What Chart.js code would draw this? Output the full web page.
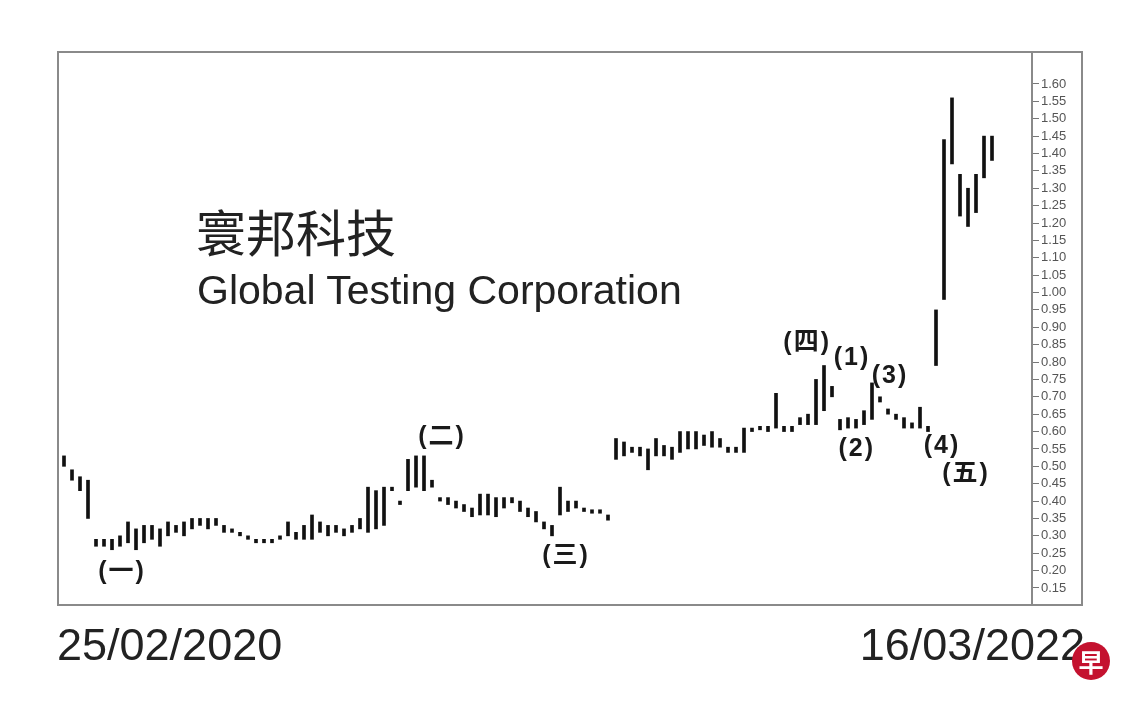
<!DOCTYPE html>
<html>
<head>
<meta charset="utf-8">
<script src="https://cdn.jsdelivr.net/npm/chart.js@4.4.0/dist/chart.umd.min.js"></script>
<style>
  body { margin: 0; background: #fff; }
  #wrap { position: relative; width: 1140px; height: 712px; overflow: hidden; }
  .txt { position: absolute; color: #222; white-space: nowrap; }
  #nameCn { left: 196px; top: 194px; font: 50px "Noto Sans CJK SC", sans-serif; }
  #nameEn { left: 197px; top: 267px; font: 41px "Liberation Sans", Arial, sans-serif; }
  #dStart { left: 57px; top: 619px; font: 45px "Liberation Sans", Arial, sans-serif; }
  #dEnd { right: 55px; top: 619px; font: 45px "Liberation Sans", Arial, sans-serif; }
  #logo { position: absolute; left: 1072px; top: 642px; width: 38px; height: 38px; border-radius: 50%;
    background: #c4122f; color: #fff; font: bold 25px "Noto Sans CJK SC", sans-serif;
    text-align: center; line-height: 38px; }
</style>
</head>
<body>
<div id="wrap">
  <canvas id="chart" width="1140" height="712"></canvas>
  <div class="txt" id="nameCn">寰邦科技</div>
  <div class="txt" id="nameEn">Global Testing Corporation</div>
  <div class="txt" id="dStart">25/02/2020</div>
  <div class="txt" id="dEnd">16/03/2022</div>
  <div id="logo">早</div>
</div>
<script>
// bar low / high, one pair per bar, from 25/02/2020 to 16/03/2022
let lows = [
  0.50, 0.46, 0.43, 0.35, 0.27, 0.27, 0.26, 0.27, 0.28, 0.26,
  0.28, 0.29, 0.27, 0.30, 0.31, 0.30, 0.32, 0.33, 0.32, 0.33,
  0.31, 0.31, 0.30, 0.29, 0.28, 0.28, 0.28, 0.29, 0.30, 0.29,
  0.29, 0.29, 0.31, 0.30, 0.31, 0.30, 0.31, 0.32, 0.31, 0.32,
  0.33, 0.43, 0.39, 0.43, 0.44, 0.43, 0.44, 0.40, 0.39, 0.38,
  0.37, 0.355, 0.36, 0.36, 0.355, 0.38, 0.395, 0.37, 0.355, 0.34,
  0.32, 0.30, 0.36, 0.37, 0.38, 0.37, 0.365, 0.365, 0.345, 0.52,
  0.53, 0.54, 0.53, 0.49, 0.53, 0.53, 0.52, 0.54, 0.55, 0.55,
  0.56, 0.555, 0.555, 0.54, 0.54, 0.54, 0.60, 0.605, 0.60, 0.61,
  0.60, 0.60, 0.62, 0.62, 0.62, 0.66, 0.70, 0.605, 0.61, 0.61,
  0.62, 0.635, 0.685, 0.65, 0.635, 0.61, 0.61, 0.61, 0.60, 0.79,
  0.98, 1.37, 1.22, 1.19, 1.23, 1.33, 1.38
];
let highs = [
  0.53, 0.49, 0.47, 0.46, 0.29, 0.29, 0.29, 0.30, 0.34, 0.32,
  0.33, 0.33, 0.32, 0.34, 0.33, 0.34, 0.35, 0.35, 0.35, 0.35,
  0.33, 0.32, 0.31, 0.30, 0.29, 0.29, 0.29, 0.30, 0.34, 0.31,
  0.33, 0.36, 0.34, 0.33, 0.33, 0.32, 0.33, 0.35, 0.44, 0.43,
  0.44, 0.44, 0.40, 0.52, 0.53, 0.53, 0.46, 0.41, 0.41, 0.40,
  0.39, 0.38, 0.42, 0.42, 0.41, 0.41, 0.41, 0.40, 0.38, 0.37,
  0.34, 0.33, 0.44, 0.40, 0.40, 0.38, 0.375, 0.375, 0.36, 0.58,
  0.57, 0.555, 0.555, 0.55, 0.58, 0.56, 0.555, 0.60, 0.60, 0.60,
  0.59, 0.60, 0.58, 0.555, 0.555, 0.61, 0.61, 0.615, 0.615, 0.71,
  0.615, 0.615, 0.64, 0.65, 0.75, 0.79, 0.73, 0.635, 0.64, 0.635,
  0.66, 0.74, 0.70, 0.665, 0.65, 0.64, 0.625, 0.67, 0.615, 0.95,
  1.44, 1.56, 1.34, 1.30, 1.34, 1.45, 1.45
];
let yTicksMin = 0.15;
let yTicksMax = 1.60;

// wave labels: bar position, price, text
let waveX = [7.25, 47.25, 62.75, 92.9, 98.5, 103.25, 99.1, 109.75, 112.75];
let waveY = [0.196, 0.584, 0.242, 0.855, 0.812, 0.76, 0.55, 0.559, 0.478];
let waveText = ["(一)", "(二)", "(三)", "(四)", "(1)", "(3)", "(2)", "(4)", "(五)"];

let barData = lows.map((lo, i) => ({ x: i, y: [lo, highs[i]] }));

let framePlugin = {
  id: "frame",
  afterDraw(chart) {
    let c = chart.ctx;
    let area = chart.chartArea;
    c.save();
    c.strokeStyle = "#8a8a8a";
    c.lineWidth = 2;
    c.strokeRect(area.left, area.top, 1082 - area.left, area.bottom - area.top);
    c.fillStyle = "#1a1a1a";
    c.font = "bold 25px 'Liberation Sans', 'Noto Sans CJK SC', sans-serif";
    c.letterSpacing = "2px";
    c.textAlign = "center";
    c.textBaseline = "middle";
    let xs = chart.scales.x;
    let ys = chart.scales.y;
    for (let i = 0; i < waveText.length; i++) {
      c.fillText(waveText[i], xs.getPixelForValue(waveX[i]), ys.getPixelForValue(waveY[i]));
    }
    c.restore();
  }
};

new Chart(document.getElementById("chart"), {
  type: "bar",
  data: {
    datasets: [{
      data: barData,
      backgroundColor: "#111",
      borderWidth: 0,
      barThickness: 3,
      grouped: false
    }]
  },
  options: {
    responsive: false,
    animation: false,
    layout: { padding: { left: 58, top: 52, right: 58, bottom: 107 } },
    plugins: { legend: { display: false }, tooltip: { enabled: false } },
    scales: {
      x: { type: "linear", min: -0.75, max: 121, offset: false, display: false },
      y: {
        position: "right",
        min: 0.101,
        max: 1.692,
        afterFit(scale) { scale.width = 50; },
        afterBuildTicks(scale) {
          scale.ticks = scale.ticks.filter(t => t.value >= yTicksMin - 0.001 && t.value <= yTicksMax + 0.001);
        },
        border: { color: "#8a8a8a", width: 2 },
        grid: { drawOnChartArea: false, tickLength: 7, color: "#777", lineWidth: 1 },
        ticks: {
          stepSize: 0.05,
          includeBounds: false,
          autoSkip: false,
          padding: 2,
          color: "#555",
          font: { family: "'Liberation Sans', Arial, sans-serif", size: 13 },
          callback: v => v.toFixed(2)
        }
      }
    }
  },
  plugins: [framePlugin]
});
</script>
</body>
</html>
